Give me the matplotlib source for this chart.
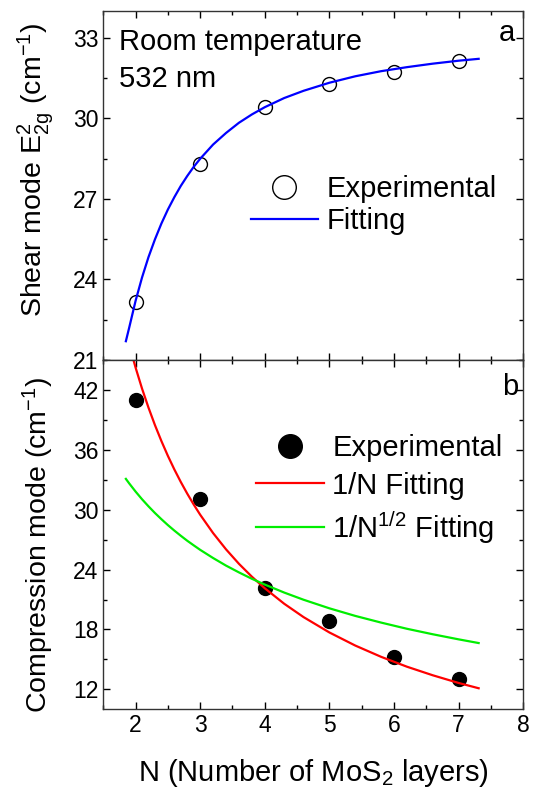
import numpy as np
import matplotlib
matplotlib.use('Agg')
import matplotlib.pyplot as plt
from matplotlib.ticker import MultipleLocator

plt.rcParams['font.family'] = ['Liberation Sans', 'DejaVu Sans']
plt.rcParams['mathtext.fontset'] = 'custom'
plt.rcParams['mathtext.rm'] = 'Liberation Sans'

## Donnees
N = [2, 3, 4, 5, 6, 7]
shear = [23.16, 28.31, 30.43, 31.29, 31.72, 32.14]          # cm-1
compression = [41.03, 31.07, 22.17, 18.83, 15.2, 13.0]      # cm-1

# courbes de fit
fit_x = [1.85, 1.9, 2.0, 2.1, 2.2, 2.3, 2.4, 2.5, 2.6, 2.7, 2.8, 2.9, 3.0,
         3.2, 3.4, 3.6, 3.8, 4.0, 4.3, 4.6, 5.0, 5.4, 5.8, 6.2, 6.6, 7.0, 7.31]
fit_shear = [21.7, 22.19, 23.2, 24.07, 24.83, 25.49, 26.08, 26.6, 27.06, 27.48, 27.85, 28.19, 28.49,
             29.02, 29.45, 29.83, 30.14, 30.41, 30.75, 31.02, 31.32, 31.56, 31.75, 31.9, 32.03, 32.14, 32.21]
fit_inv = [47.84, 46.58, 44.25, 42.14, 40.23, 38.48, 36.88, 35.4, 34.04, 32.78, 31.61, 30.52, 29.5,
           27.66, 26.03, 24.58, 23.29, 22.13, 20.58, 19.24, 17.7, 16.39, 15.26, 14.27, 13.41, 12.64, 12.11]
fit_sqrt = [33.09, 32.65, 31.82, 31.05, 30.34, 29.67, 29.05, 28.46, 27.91, 27.39, 26.89, 26.43, 25.98,
            25.16, 24.4, 23.72, 23.08, 22.5, 21.7, 20.98, 20.12, 19.36, 18.69, 18.07, 17.52, 17.01, 16.64]

fs = 16.5   # ticks
ft = 21     # textes
fig = plt.figure(figsize=(5.35, 7.89), dpi=100)
ax1 = fig.add_axes([0.193, 0.5437, 0.785, 0.4427])
ax2 = fig.add_axes([0.193, 0.1010, 0.785, 0.4427])

for ax in (ax1, ax2):
    ax.set_xlim(1.5, 8)
    ax.xaxis.set_major_locator(MultipleLocator(1))
    ax.xaxis.set_minor_locator(MultipleLocator(0.5))
    ax.tick_params(which='both', direction='in', top=True, right=True, labelsize=fs)
    ax.tick_params(which='major', length=5, width=1)
    ax.tick_params(which='minor', length=3, width=1)
    for s in ax.spines.values():
        s.set_linewidth(1.0)
        s.set_color('#333333')

## panneau a
ax1.plot(N, shear, 'o', ms=10, mfc='none', mec='k', mew=1, label='Experimental')
ax1.plot(fit_x, fit_shear, '-', color='#0000ff', lw=1.6, label='Fitting')
ax1.set_ylim(21, 34)
ax1.yaxis.set_major_locator(MultipleLocator(3))
ax1.yaxis.set_minor_locator(MultipleLocator(1.5))
ax1.tick_params(labelbottom=False)
ax1.set_ylabel(r'Shear mode $\mathregular{E^{2}_{2g}}$ (cm$\mathregular{^{-1}}$)', fontsize=20.5)
ax1.yaxis.set_label_coords(-0.112, 0.545)
ax1.text(0.0386, 0.889, 'Room temperature', transform=ax1.transAxes,
         fontsize=ft, va='baseline', ha='left')
ax1.text(0.0386, 0.7816, '532 nm', transform=ax1.transAxes,
         fontsize=ft, va='baseline', ha='left')
ax1.text(0.961, 0.9356, 'a', transform=ax1.transAxes, fontsize=ft, ha='center', va='center')
ax1.legend(loc='center left', bbox_to_anchor=(0.323, 0.444), frameon=False, fontsize=ft,
           markerscale=1.7, handlelength=2.3, handletextpad=0.3, labelspacing=0.15,
           borderaxespad=0)

## panneau b
ax2.plot(N, compression, 'o', ms=10, color='k', label='Experimental')
ax2.plot(fit_x, fit_inv, '-', color='#ff0000', lw=1.6, label='1/N Fitting')
ax2.plot(fit_x, fit_sqrt, '-', color='#00ee00', lw=1.6,
         label=r'1/N$\mathregular{^{1/2}}$ Fitting')
ax2.set_ylim(10, 45)
ax2.yaxis.set_minor_locator(MultipleLocator(3))
ax2.set_yticks([12, 18, 24, 30, 36, 42])
ax2.set_ylabel(r'Compression mode (cm$\mathregular{^{-1}}$)', fontsize=20.5)
ax2.yaxis.set_label_coords(-0.112, 0.47)
ax2.set_xlabel(r'N (Number of MoS$\mathregular{_2}$ layers)', fontsize=ft, labelpad=14)
ax2.text(0.968, 0.9227, 'b', transform=ax2.transAxes, fontsize=ft, ha='center', va='center')
ax2.legend(loc='center left', bbox_to_anchor=(0.335, 0.628), frameon=False, fontsize=ft,
           markerscale=1.7, handlelength=2.35, handletextpad=0.28, labelspacing=0.32,
           borderaxespad=0)

plt.savefig('out.png', dpi=100)
